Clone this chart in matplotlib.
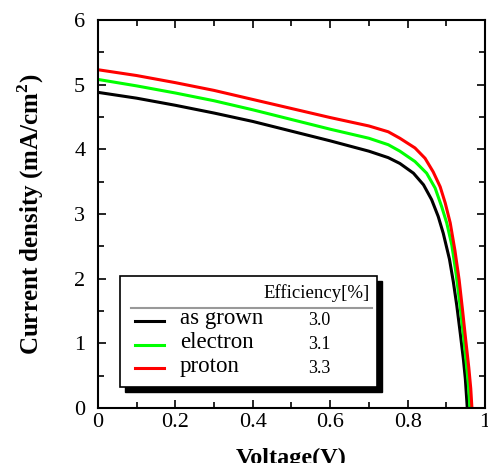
import matplotlib.pyplot as plt
from matplotlib.patches import Rectangle
from matplotlib.ticker import MultipleLocator

plt.rcParams['font.family'] = ['Liberation Serif', 'DejaVu Serif']
plt.rcParams['mathtext.fontset'] = 'custom'
plt.rcParams['mathtext.rm'] = 'Liberation Serif'
plt.rcParams['mathtext.bf'] = 'Liberation Serif:bold'

# J-V data
v_grown = [0, 0.1, 0.2, 0.3, 0.4, 0.5, 0.6, 0.7, 0.75, 0.78, 0.815, 0.841, 0.862, 0.879, 0.892, 0.908, 0.918, 0.927, 0.936, 0.944, 0.949, 0.954]
j_grown = [4.88, 4.79, 4.68, 4.56, 4.43, 4.28, 4.13, 3.97, 3.87, 3.78, 3.63, 3.45, 3.22, 2.96, 2.70, 2.30, 1.95, 1.58, 1.15, 0.75, 0.45, 0.0]

v_electron = [0, 0.1, 0.2, 0.3, 0.4, 0.5, 0.6, 0.7, 0.75, 0.78, 0.819, 0.849, 0.871, 0.888, 0.901, 0.914, 0.925, 0.935, 0.944, 0.952, 0.957, 0.961]
j_electron = [5.08, 4.98, 4.87, 4.75, 4.61, 4.46, 4.31, 4.17, 4.07, 3.97, 3.81, 3.63, 3.40, 3.11, 2.86, 2.52, 2.08, 1.60, 1.12, 0.66, 0.35, 0.0]

v_proton = [0, 0.1, 0.2, 0.3, 0.4, 0.5, 0.6, 0.7, 0.75, 0.78, 0.819, 0.845, 0.866, 0.884, 0.897, 0.910, 0.922, 0.933, 0.942, 0.950, 0.958, 0.963, 0.966]
j_proton = [5.23, 5.14, 5.03, 4.91, 4.77, 4.63, 4.49, 4.36, 4.27, 4.17, 4.02, 3.86, 3.65, 3.42, 3.17, 2.86, 2.44, 1.98, 1.50, 1.05, 0.62, 0.30, 0.0]

labels = ["as grown", "electron", "proton"]
efficiency = ["3.0", "3.1", "3.3"]
colors = ["black", "#00ff00", "#ff0000"]

fig = plt.figure(figsize=(4.89, 4.63), dpi=100)
ax = fig.add_axes([0.200, 0.119, 0.792, 0.838])

series = [(v_grown, j_grown), (v_electron, j_electron), (v_proton, j_proton)]
for (v, j), c in zip(series, colors):
    ax.plot(v, j, color=c, lw=2.2, solid_joinstyle='round')

ax.set_xlim(0, 1)
ax.set_ylim(0, 6)
ax.xaxis.set_major_locator(MultipleLocator(0.2))
ax.xaxis.set_minor_locator(MultipleLocator(0.1))
ax.yaxis.set_major_locator(MultipleLocator(1))
ax.yaxis.set_minor_locator(MultipleLocator(0.5))
ax.set_xticks([0, 0.2, 0.4, 0.6, 0.8, 1.0])
ax.set_xticklabels(["0", "0.2", "0.4", "0.6", "0.8", "1"])
ax.tick_params(which='both', direction='in', top=True, right=True, width=1.2, labelsize=16)
ax.tick_params(which='major', length=6)
ax.tick_params(which='minor', length=4.5)
ax.tick_params(axis='y', pad=9)
ax.tick_params(axis='x', pad=4)
for s in ax.spines.values():
    s.set_linewidth(1.5)

ax.set_xlabel("Voltage(V)", fontsize=17.5, fontweight='bold', labelpad=11)
ax.set_ylabel(r"Current density (mA/cm$^\mathbf{2}$)", fontsize=18, fontweight='bold', labelpad=20)

# legend box drawn by hand (shadowed box with header)
ax.add_patch(Rectangle((0.070, 0.25), 0.664, 1.715, facecolor='black', edgecolor='black', zorder=4))
ax.add_patch(Rectangle((0.057, 0.325), 0.664, 1.715, facecolor='white', edgecolor='black', lw=1.2, zorder=5))
ax.plot([0.085, 0.708], [1.546, 1.546], color='#999999', lw=1.5, zorder=6)
ax.text(0.703, 1.78, "Efficiency[%]", fontsize=13.5, ha='right', va='center', zorder=6)
ys = [1.35, 0.974, 0.614]
for lab, eff, c, y in zip(labels, efficiency, colors, ys):
    ax.plot([0.096, 0.171], [y, y], color=c, lw=2.2, zorder=6)
    ax.text(0.212, y + 0.03, lab, fontsize=16.5, ha='left', va='center', zorder=6)
    ax.text(0.543, y, eff, fontsize=13, ha='left', va='center', zorder=6)

fig.savefig("out.png", dpi=100)
